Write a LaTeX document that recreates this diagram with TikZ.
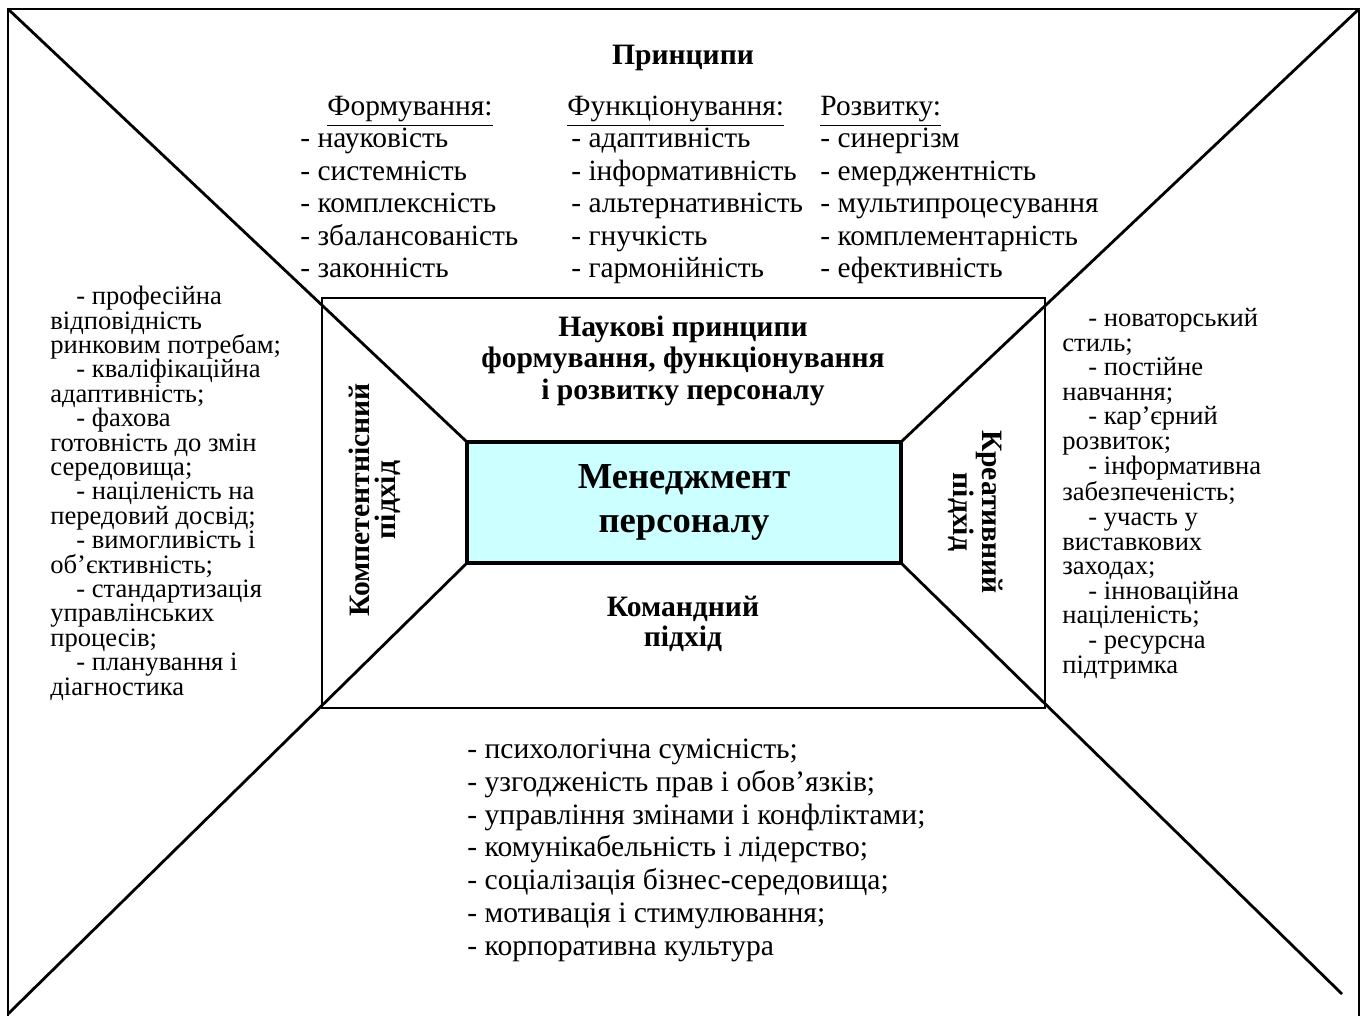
\documentclass[tikz,border=0pt]{standalone}
\usepackage{fontspec}
\setmainfont{Liberation Serif}
\usetikzlibrary{positioning}
\definecolor{corecyan}{HTML}{CCFFFF}

\begin{document}
\begin{tikzpicture}[x=0.5pt,y=-0.5pt]
	\tikzset{frameline/.style = {line width=1.4pt}}
	\tikzset{corebox/.style = {draw, line width=1.6pt, fill=corecyan,
			minimum width=217pt, minimum height=60.5pt, inner sep=0pt,
			outer sep=0pt, align=center,
			font=\fontsize{18.3}{22}\selectfont\bfseries}}
	\tikzset{midbox/.style = {draw, line width=0.8pt, minimum width=361.5pt,
			minimum height=205pt, inner sep=0pt, outer sep=0pt}}
	\tikzset{plain/.style = {inner sep=0pt, align=left,
			font=\fontsize{14.7}{16.25}\selectfont}}
	\tikzset{side/.style = {inner sep=0pt, align=left,
			font=\fontsize{13.3}{12.2}\selectfont}}
	\tikzset{heading/.style = {inner sep=0pt, align=center,
			font=\fontsize{14.8}{16}\selectfont\bfseries}}

	\useasboundingbox (0,0) rectangle (1366,1016);

	% frame and boxes
	\coordinate (tl) at (8,9);
	\coordinate (tr) at (1359,9);
	\coordinate (bl) at (8,1014);
	\coordinate (br) at (1342,994);
	\coordinate (lend) at (8,1016);
	\coordinate (rend) at (1359,1016);
	\draw[frameline] (lend) -- (tl) -- (tr) -- (rend);

	\node[midbox] (mid) at (683.5,503) {};
	\node[corebox] (core) at (684,502.5) {Менеджмент\\персоналу};

	% diagonals
	\draw[frameline] (tl) -- (core.north west);
	\draw[frameline] (tr) -- (core.north east);
	\draw[frameline] (bl) -- (core.south west);
	\draw[frameline] (br) -- (core.south east);

	% principles (base = last line)
	\node[heading, anchor=base] (princ) at (683,65) {Принципи};
	\node[plain, anchor=base west] (formHead) at (327,116) {\underline{Формування:}};
	\node[plain, anchor=base west] (funcHead) at (567,116) {\underline{Функціонування:}};
	\node[plain, anchor=base west] (devHead) at (820,116) {\underline{Розвитку:}};
	\node[plain, anchor=base west] (formList) at (300,278) {- науковість\\- системність\\- комплексність\\- збалансованість\\- законність};
	\node[plain, anchor=base west] (funcList) at (571,278) {- адаптивність\\- інформативність\\- альтернативність\\- гнучкість\\- гармонійність};
	\node[plain, anchor=base west] (devList) at (820,278) {- синергізм\\- емерджентність\\- мультипроцесування\\- комплементарність\\- ефективність};

	% approaches
	\node[heading, anchor=base] (science) at (683,400) {Наукові принципи\\формування, функціонування\\і розвитку персоналу};
	\node[heading, font=\fontsize{14.8}{15}\selectfont\bfseries] (team) at (683,624) {Командний\\підхід};
	\node[heading, rotate=90, font=\fontsize{14.8}{13}\selectfont\bfseries] (compet) at (375,500) {Компетентнісний\\підхід};
	\node[heading, rotate=-90, font=\fontsize{14.8}{11.5}\selectfont\bfseries] (creat) at (976,512) {Креативний\\підхід};

	% lists
	\node[side, anchor=base west] (competList) at (50,695) {\hspace*{13pt}- професійна\\відповідність\\ринковим потребам;\\\hspace*{13pt}- кваліфікаційна\\адаптивність;\\\hspace*{13pt}- фахова\\готовність до змін\\середовища;\\\hspace*{13pt}- націленість на\\передовий досвід;\\\hspace*{13pt}- вимогливість і\\об’єктивність;\\\hspace*{13pt}- стандартизація\\управлінських\\процесів;\\\hspace*{13pt}- планування і\\діагностика};
	\node[side, anchor=base west, font=\fontsize{13.3}{12.3}\selectfont] (creatList) at (1062,673) {\hspace*{13pt}- новаторський\\стиль;\\\hspace*{13pt}- постійне\\навчання;\\\hspace*{13pt}- кар’єрний\\розвиток;\\\hspace*{13pt}- інформативна\\забезпеченість;\\\hspace*{13pt}- участь у\\виставкових\\заходах;\\\hspace*{13pt}- інноваційна\\націленість;\\\hspace*{13pt}- ресурсна\\підтримка};
	\node[plain, anchor=base west, font=\fontsize{14.8}{16.35}\selectfont] (teamList) at (467,955) {- психологічна сумісність;\\- узгодженість прав і обов’язків;\\- управління змінами і конфліктами;\\- комунікабельність і лідерство;\\- соціалізація бізнес-середовища;\\- мотивація і стимулювання;\\- корпоративна культура};
\end{tikzpicture}
\end{document}
